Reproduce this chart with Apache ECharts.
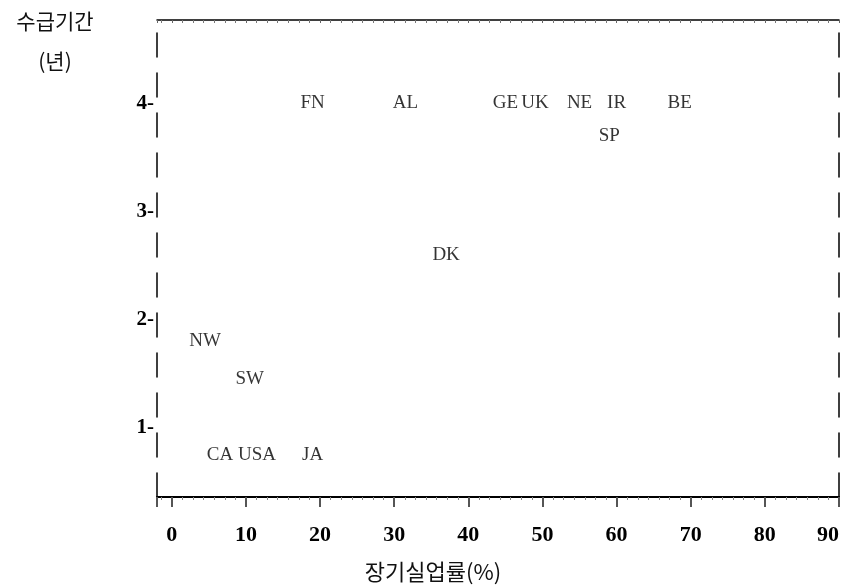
<!DOCTYPE html>
<html>
<head>
<meta charset="utf-8">
<script src="https://cdn.jsdelivr.net/npm/echarts@6/dist/echarts.min.js"></script>
<style>
  html, body { margin: 0; padding: 0; background: #fff; }
  #chart { width: 847px; height: 587px; }
</style>
</head>
<body>
<div id="chart"></div>
<script>
// ---- data ----
const countries = ['FN', 'AL', 'GE', 'UK', 'NE', 'IR', 'BE', 'SP', 'DK', 'NW', 'SW', 'CA', 'USA', 'JA'];
// long-term unemployment share (%)
const longTermUnemployment = [19, 31.5, 45, 49, 55, 60, 68.5, 59, 37, 4.5, 10.5, 6.5, 11.5, 19];
// benefit duration (years)
const benefitYears = [4.0, 4.0, 4.0, 4.0, 4.0, 4.0, 4.0, 3.7, 2.6, 1.8, 1.45, 0.75, 0.75, 0.75];

const xTitle = '장기실업률(%)';
const yTitle = '수급기간\n(년)';

const points = countries.map((c, i) => ({ name: c, value: [longTermUnemployment[i], benefitYears[i]] }));

const serif = "'Liberation Serif', 'DejaVu Serif', serif";
const cjk = "'Noto Sans CJK KR', sans-serif";

const isMult = (v, m) => Math.abs(v / m - Math.round(v / m)) < 1e-6;

const chart = echarts.init(document.getElementById('chart'), null, { renderer: 'canvas' });
chart.setOption({
  animation: false,
  backgroundColor: '#fff',
  title: {
    text: yTitle,
    left: 55,
    top: 1,
    padding: 0,
    textAlign: 'center',
    textStyle: { fontFamily: cjk, fontSize: 21, fontWeight: 'normal', color: '#111', lineHeight: 40 }
  },
  grid: { left: 157, right: 8, top: 20, bottom: 90, containLabel: false, outerBoundsMode: 'none' },
  xAxis: [{
    type: 'value',
    position: 'bottom',
    min: -2,
    max: 90,
    splitNumber: 9,
    splitLine: { show: false },
    axisLine: { onZero: false, lineStyle: { color: '#000', width: 2 } },
    axisTick: { show: true, length: 10, lineStyle: { color: '#555', width: 2 } },
    minorTick: { show: true, splitNumber: 7, length: 3, lineStyle: { color: '#888', width: 1 } },
    axisLabel: {
      margin: 27,
      fontFamily: serif,
      fontSize: 22,
      fontWeight: 'bold',
      color: '#000',
      alignMaxLabel: 'right',
      formatter: v => (isMult(v, 10) ? String(Math.round(v)) : '')
    },
    name: xTitle,
    nameLocation: 'middle',
    nameGap: 64,
    nameTextStyle: { fontFamily: cjk, fontSize: 22, color: '#111', padding: [0, 130, 0, 0] }
  }, {
    type: 'value',
    position: 'top',
    min: -2,
    max: 90,
    splitNumber: 9,
    splitLine: { show: false },
    axisLine: { onZero: false, lineStyle: { color: '#000', width: 1.5 } },
    axisTick: { show: true, inside: true, length: 3, lineStyle: { color: '#666', width: 1 } },
    minorTick: { show: true, splitNumber: 7, length: 3, lineStyle: { color: '#777', width: 1 } },
    axisLabel: { show: false }
  }],
  yAxis: [{
    type: 'value',
    position: 'left',
    min: 0.36,
    max: 4.77,
    splitNumber: 4,
    splitLine: { show: false },
    axisLine: { onZero: false, lineStyle: { color: '#000', width: 1.5, type: [24, 16] } },
    axisTick: { show: false },
    axisLabel: {
      margin: 3,
      fontFamily: serif,
      fontSize: 21,
      fontWeight: 'bold',
      color: '#000',
      formatter: v => (isMult(v, 1) ? Math.round(v) + '-' : '')
    }
  }, {
    type: 'value',
    position: 'right',
    min: 0.36,
    max: 4.77,
    splitNumber: 4,
    splitLine: { show: false },
    axisLine: { onZero: false, lineStyle: { color: '#000', width: 1.5, type: [24, 16] } },
    axisTick: { show: false },
    axisLabel: { show: false }
  }],
  series: [{
    type: 'scatter',
    xAxisIndex: 0,
    yAxisIndex: 0,
    data: points,
    symbol: 'circle',
    symbolSize: 1,
    itemStyle: { color: 'rgba(0,0,0,0)' },
    label: {
      show: true,
      position: 'inside',
      formatter: p => p.name,
      fontFamily: serif,
      fontSize: 19,
      color: '#000'
    },
    emphasis: { disabled: true }
  }]
});
</script>
</body>
</html>
